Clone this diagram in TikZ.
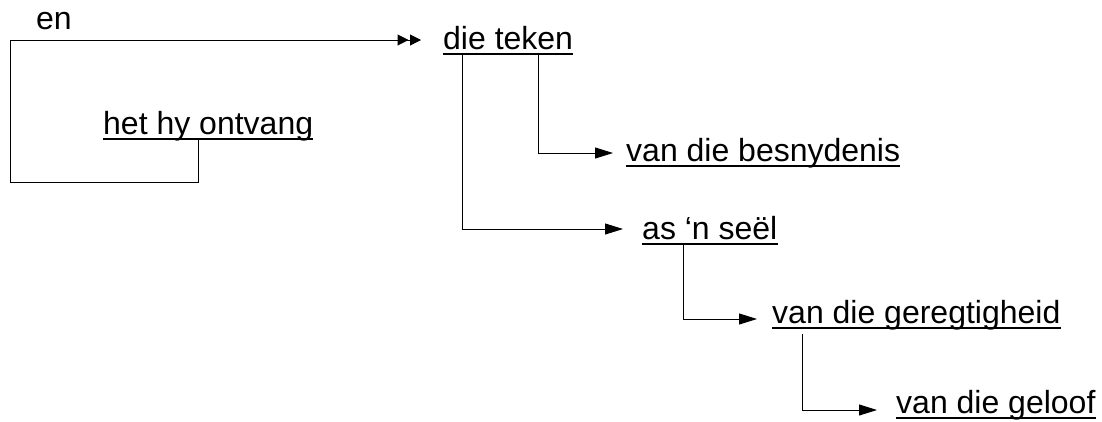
\documentclass[tikz,border=0pt]{standalone}
\usepackage{fontspec}
\setmainfont{Liberation Sans}
\usetikzlibrary{arrows.meta,calc}
\begin{document}
\begin{tikzpicture}[x=1pt,y=-1pt,
  txt/.style={inner sep=0pt,anchor=base west,font=\fontsize{32}{38}\selectfont},
  ul/.style={line width=2pt},
  conn/.style={line width=1pt,-{Triangle[length=18pt,width=11pt]}},
  dconn/.style={line width=1pt,-{Triangle[length=11pt,width=11pt,sep=1.5pt]Triangle[length=11pt,width=11pt]}}]
\useasboundingbox (0,0) rectangle (1102,421);
\node[txt] (en) at (36,29.5) {en};
\node[txt] (teken) at (443,49) {die teken};
\node[txt] (het) at (103,134.5) {het hy ontvang};
\node[txt] (besn) at (626,161) {van die besnydenis};
\node[txt] (seel) at (642,239) {as ‘n seël};
\node[txt] (gereg) at (772,323) {van die geregtigheid};
\node[txt] (geloof) at (896,413) {van die geloof};
\foreach \n in {teken,het,besn,seel,gereg,geloof}
  \draw[ul] ($(\n.base west)+(0,4.5)$) -- ($(\n.base east)+(0,4.5)$);
\coordinate (c1) at (10,182);
\coordinate (c2) at (10,40);
\draw[dconn] ($(het.base west)+(95,5.5)$) |- (c1) -- (c2) -- ($(teken.base west)+(-22,-9)$);
\draw[conn] ($(teken.base west)+(95,5.5)$) |- ($(besn.base west)+(-13,-8)$);
\draw[conn] ($(teken.base west)+(19,5.5)$) |- ($(seel.base west)+(-19,-10)$);
\draw[conn] ($(seel.base west)+(41,5.5)$) |- ($(gereg.base west)+(-15,-4)$);
\draw[conn] ($(gereg.base west)+(30,11)$) |- ($(geloof.base west)+(-19,-3)$);
\end{tikzpicture}
\end{document}
